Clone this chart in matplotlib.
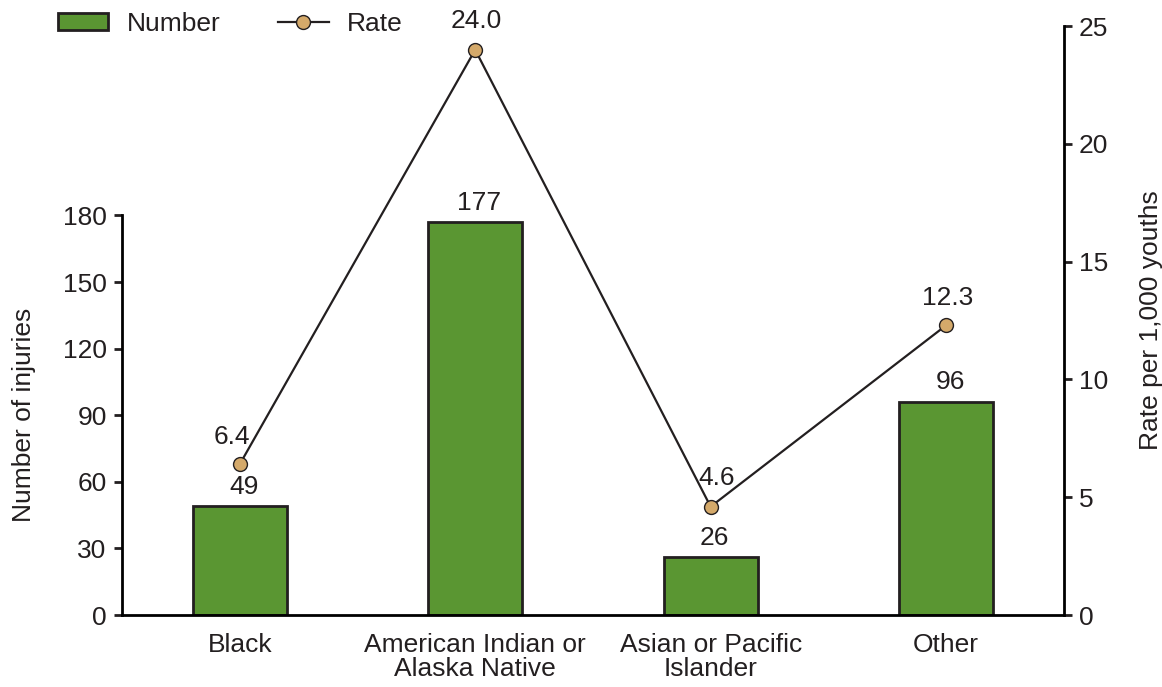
import numpy as np
import matplotlib.pyplot as plt

groups = ['Black', 'American Indian or\nAlaska Native', 'Asian or Pacific\nIslander', 'Other']
injuries = [49, 177, 26, 96]
rates = [6.4, 24.0, 4.6, 12.3]
left_ticks = [0, 30, 60, 90, 120, 150, 180]
right_ticks = [0, 5, 10, 15, 20, 25]

ink = '#231f20'
plt.rcParams['font.family'] = ['Liberation Sans', 'DejaVu Sans']
plt.rcParams['font.size'] = 19
plt.rcParams['text.color'] = ink
plt.rcParams['axes.labelcolor'] = ink
plt.rcParams['xtick.color'] = ink
plt.rcParams['ytick.color'] = ink

fig = plt.figure(figsize=(11.62, 6.87), dpi=100)
ax = fig.add_axes([0.1050, 0.1048, 0.8105, 0.8570])
ax2 = ax.twinx()

x = np.arange(len(groups))

# bars (left axis)
bars = ax.bar(x, injuries, width=0.4, color='#5a9632', edgecolor=ink, linewidth=2,
              label='Number', zorder=2)
for xi, v in zip(x, injuries):
    ax.annotate(str(v), (xi, v), xytext=(3, 14), textcoords='offset points',
                ha='center', va='center')

top = 180 * (615 - 27) / (615 - 216)
ax.set_ylim(0, top)
ax.set_xlim(-0.5, 3.5)
ax.set_yticks(left_ticks)
ax.spines['left'].set_bounds(0, 180)
ax.spines['top'].set_visible(False)
ax.spines['right'].set_visible(False)
ax.spines['left'].set_linewidth(2)
ax.spines['bottom'].set_linewidth(2)
ax.set_xticks(x)
ax.set_xticklabels(groups, linespacing=1.0)
ax.tick_params(axis='x', length=0, pad=13)
ax.tick_params(axis='y', length=6, width=2, pad=5)
# label centred on the 0-180 part of the axis
ax.set_ylabel('Number of injuries', labelpad=19, y=90 / top)

# rate line (right axis)
line, = ax2.plot(x, rates, color=ink, linewidth=1.6, marker='o', markersize=10,
                 markerfacecolor='#d4a96a', markeredgecolor=ink, markeredgewidth=1.0,
                 label='Rate', zorder=3)
offsets = [(-6, 20), (1, 21), (4, 21), (1, 20)]
for xi, v, (dx, dy) in zip(x, rates, offsets):
    ax2.annotate(f'{v:.1f}', (xi, v), xytext=(dx, dy), textcoords='offset points',
                 ha='center', va='center', annotation_clip=False)
ax2.set_ylim(0, 25)
ax2.set_yticks(right_ticks)
for s in ['top', 'left', 'bottom']:
    ax2.spines[s].set_visible(False)
ax2.spines['right'].set_linewidth(2)
ax2.tick_params(axis='y', length=6, width=2, pad=5)
ax2.set_ylabel('Rate per 1,000 youths', labelpad=22)
ax2.set_zorder(ax.get_zorder() + 1)
ax2.patch.set_visible(False)
line.set_clip_on(False)

fig.legend([bars, line], ['Number', 'Rate'], loc='upper left', bbox_to_anchor=(0.0499, 1 - 12 / 687),
           ncol=2, frameon=False, handlelength=1.9, handleheight=0.6, columnspacing=2.2,
           handletextpad=0.7, borderpad=0, borderaxespad=0, fontsize=19)

fig.savefig('out.png', dpi=100)
